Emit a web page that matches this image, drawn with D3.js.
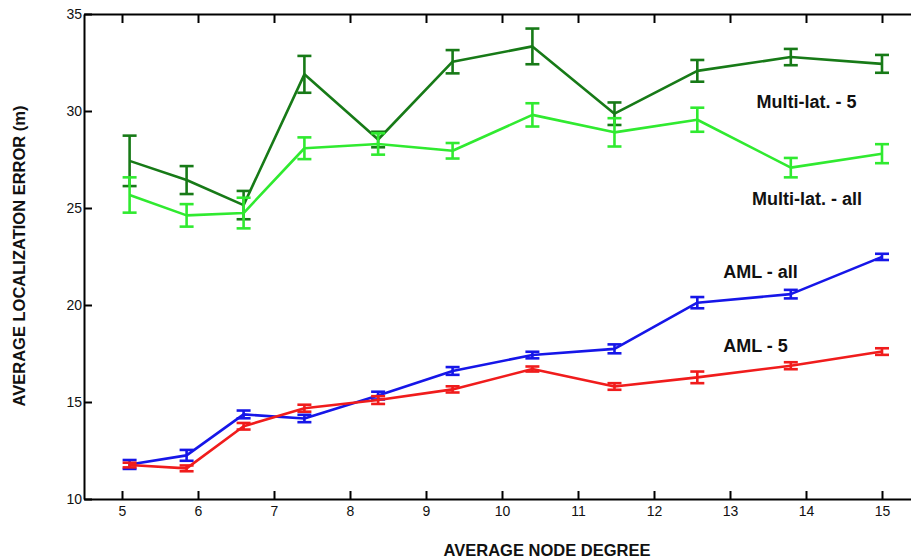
<!doctype html>
<html lang="en">
<head>
<meta charset="utf-8">
<title>Average localization error vs node degree</title>
<style>
    body { margin: 0; background: #fff; }
    svg { display: block; font-family: "Liberation Sans", Arial, sans-serif; }
    .axis path, .axis line { stroke: #000; stroke-width: 2; }
    .axis text { font-size: 14px; fill: #111; }
    .title { font-size: 16.5px; font-weight: bold; fill: #111; }
    .series-label { font-size: 18px; font-weight: bold; fill: #111; }
</style>
</head>
<body>
<svg id="chart" width="911" height="558"></svg>

<script src="https://d3js.org/d3.v7.min.js"></script>
<script>
    // average node degree for each run
    const degree = [5.1, 5.85, 6.6, 7.4, 8.37, 9.35, 10.4, 11.48, 12.57, 13.8, 15.0];

    const multi5 = [27.43, 26.44, 25.15, 31.89, 28.53, 32.54, 33.33, 29.86, 32.07, 32.78, 32.43];
    const multi5Err = [1.3, 0.72, 0.73, 0.95, 0.4, 0.6, 0.92, 0.58, 0.56, 0.42, 0.46];

    const multiAll = [25.67, 24.62, 24.74, 28.08, 28.3, 27.95, 29.8, 28.9, 29.55, 27.08, 27.8];
    const multiAllErr = [0.91, 0.58, 0.79, 0.56, 0.55, 0.4, 0.6, 0.73, 0.62, 0.5, 0.49];

    const amlAll = [11.78, 12.25, 14.36, 14.15, 15.33, 16.6, 17.42, 17.74, 20.12, 20.56, 22.48];
    const amlAllErr = [0.23, 0.28, 0.2, 0.19, 0.2, 0.2, 0.17, 0.23, 0.29, 0.22, 0.16];

    const aml5 = [11.75, 11.58, 13.75, 14.68, 15.1, 15.65, 16.7, 15.8, 16.27, 16.87, 17.6];
    const aml5Err = [0.12, 0.15, 0.17, 0.18, 0.2, 0.16, 0.13, 0.17, 0.3, 0.18, 0.17];

    const xTicks = [5, 6, 7, 8, 9, 10, 11, 12, 13, 14, 15];
    const yTicks = [10, 15, 20, 25, 30, 35];

    const seriesNames = ["Multi-lat. - 5", "Multi-lat. - all", "AML - all", "AML - 5"];
    const seriesColors = ["#177a17", "#30ea30", "#1616e8", "#f01c1c"];

    const series = [
        {name: seriesNames[0], values: multi5, err: multi5Err, color: seriesColors[0], lx: 13.35, ly: 30.18},
        {name: seriesNames[1], values: multiAll, err: multiAllErr, color: seriesColors[1], lx: 13.29, ly: 25.13},
        {name: seriesNames[2], values: amlAll, err: amlAllErr, color: seriesColors[2], lx: 12.91, ly: 21.37},
        {name: seriesNames[3], values: aml5, err: aml5Err, color: seriesColors[3], lx: 12.91, ly: 17.6}
    ];

    const margin = {left: 84, right: -9, top: 14, bottom: 59};
    const width = 911 - margin.left - margin.right;
    const height = 558 - margin.top - margin.bottom;

    const svg = d3.select("#chart");
    const g = svg.append("g").attr("transform", `translate(${margin.left},${margin.top})`);

    const x = d3.scaleLinear().domain([4.5, 15.5]).range([0, width]);
    const y = d3.scaleLinear().domain([10, 35]).range([height, 0]);

    // frame / axes, ticks point inward like the matlab plot
    g.append("g").attr("class", "axis")
        .attr("transform", `translate(0,${height})`)
        .call(d3.axisBottom(x).tickValues(xTicks).tickSizeInner(-8).tickSizeOuter(0).tickPadding(7));

    g.append("g").attr("class", "axis")
        .call(d3.axisTop(x).tickValues(xTicks).tickSizeInner(-9).tickSizeOuter(0).tickFormat(""));

    g.append("g").attr("class", "axis")
        .call(d3.axisLeft(y).tickValues(yTicks).tickSizeInner(-8).tickSizeOuter(0).tickPadding(2));

    g.append("g").attr("class", "axis")
        .attr("transform", `translate(${width},0)`)
        .call(d3.axisRight(y).tickValues(yTicks).tickSizeInner(-9).tickSizeOuter(0).tickFormat(""));

    g.selectAll(".axis .domain").attr("stroke-width", 2.2);

    const line = d3.line()
        .x((d, i) => x(degree[i]))
        .y(d => y(d));

    const capW = 7;

    series.forEach(s => {
        const sg = g.append("g");

        sg.append("path")
            .datum(s.values)
            .attr("fill", "none")
            .attr("stroke", s.color)
            .attr("stroke-width", 2.6)
            .attr("stroke-linejoin", "round")
            .attr("d", line);

        const bars = sg.selectAll(".err")
            .data(s.values)
            .enter().append("g")
            .attr("stroke", s.color)
            .attr("stroke-width", 2.6);

        bars.append("line")
            .attr("x1", (d, i) => x(degree[i]))
            .attr("x2", (d, i) => x(degree[i]))
            .attr("y1", (d, i) => y(d + s.err[i]))
            .attr("y2", (d, i) => y(d - s.err[i]));

        bars.append("line")
            .attr("x1", (d, i) => x(degree[i]) - capW)
            .attr("x2", (d, i) => x(degree[i]) + capW)
            .attr("y1", (d, i) => y(d + s.err[i]))
            .attr("y2", (d, i) => y(d + s.err[i]));

        bars.append("line")
            .attr("x1", (d, i) => x(degree[i]) - capW)
            .attr("x2", (d, i) => x(degree[i]) + capW)
            .attr("y1", (d, i) => y(d - s.err[i]))
            .attr("y2", (d, i) => y(d - s.err[i]));

        g.append("text")
            .attr("class", "series-label")
            .attr("x", x(s.lx))
            .attr("y", y(s.ly))
            .text(s.name);
    });

    svg.append("text")
        .attr("class", "title")
        .attr("text-anchor", "middle")
        .attr("x", 547)
        .attr("y", 556)
        .text("AVERAGE NODE DEGREE");

    svg.append("text")
        .attr("class", "title")
        .attr("text-anchor", "middle")
        .attr("transform", "translate(25,256) rotate(-90)")
        .text("AVERAGE LOCALIZATION ERROR (m)");
</script>
</body>
</html>
